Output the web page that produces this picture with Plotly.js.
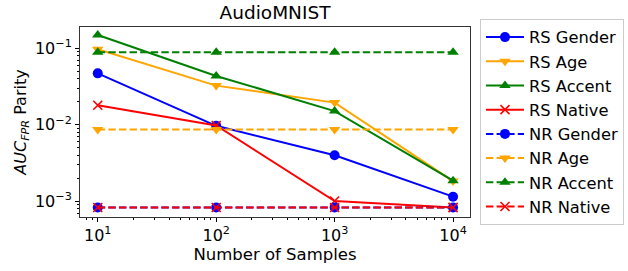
<!DOCTYPE html>
<html>
<head>
<meta charset="utf-8">
<script src="https://cdn.plot.ly/plotly-3.0.1.min.js"></script>
<style>html,body{margin:0;padding:0;background:#fff;}#chart{width:628px;height:271px;}</style>
</head>
<body>
<div id="chart"></div>
<script>
const samples = [10, 100, 1000, 10000];
const rsGender = [0.047, 0.0097, 0.0040, 0.00115];
const rsAge = [0.097, 0.0325, 0.0195, 0.00184];
const rsAccent = [0.149, 0.0435, 0.0151, 0.00186];
const rsNative = [0.018, 0.0098, 0.00101, 0.00083];
const nrGender = [0.00083, 0.00083, 0.00083, 0.00083];
const nrAge = [0.0087, 0.0087, 0.0087, 0.0087];
const nrAccent = [0.0887, 0.0887, 0.0887, 0.0887];
const nrNative = [0.00083, 0.00083, 0.00083, 0.00083];
const xTickVals = [10, 100, 1000, 10000];
const xTickText = ['10<sup>1</sup>', '10<sup>2</sup>', '10<sup>3</sup>', '10<sup>4</sup>'];
const yTickVals = [0.001, 0.01, 0.1];
const yTickText = ['10<sup>\u22123</sup>', '10<sup>\u22122</sup>', '10<sup>\u22121</sup>'];

function minorVals(lo, hi) {
  const v = [];
  for (let e = lo; e <= hi; e++) {
    for (let m = 2; m <= 9; m++) v.push(m * Math.pow(10, e));
  }
  return v;
}

const BLUE = '#0000ff', ORANGE = '#ffa500', GREEN = '#008000', RED = '#ff0000';
function tr(name, y, color, symbol, dashed) {
  const isX = symbol === 'x-thin';
  return {
    x: samples, y: y, name: name, type: 'scatter', mode: 'lines+markers',
    line: {color: color, width: 2, dash: dashed ? '7.4px,3.2px' : 'solid'},
    marker: {symbol: symbol, size: isX ? 9 : 10, color: color,
             line: {color: color, width: isX ? 1.6 : 0}}
  };
}
const data = [
  tr('RS Gender', rsGender, BLUE, 'circle', false),
  tr('RS Age', rsAge, ORANGE, 'triangle-down', false),
  tr('RS Accent', rsAccent, GREEN, 'triangle-up', false),
  tr('RS Native', rsNative, RED, 'x-thin', false),
  tr('NR Gender', nrGender, BLUE, 'circle', true),
  tr('NR Age', nrAge, ORANGE, 'triangle-down', true),
  tr('NR Accent', nrAccent, GREEN, 'triangle-up', true),
  tr('NR Native', nrNative, RED, 'x-thin', true)
];
const font = {family: 'DejaVu Sans', color: '#000'};
const layout = {
  width: 628, height: 271,
  margin: {l: 80, r: 158, t: 27, b: 54, autoexpand: false},
  paper_bgcolor: '#fff', plot_bgcolor: '#fff',
  font: font,
  title: {text: 'AudioMNIST', font: {family: 'DejaVu Sans', size: 18.5, color: '#000'}, x: 0.4379, xanchor: 'center', y: 0.955, yanchor: 'middle'},
  xaxis: {
    type: 'log', range: [0.85, 4.143],
    tickmode: 'array', tickvals: xTickVals, ticktext: xTickText,
    ticks: 'outside', ticklen: 4, tickwidth: 1, tickcolor: '#000',
    tickfont: {family: 'DejaVu Sans', size: 16, color: '#000'},
    showgrid: false, zeroline: false,
    showline: true, linecolor: '#333', linewidth: 1, mirror: true,
    minor: {tickmode: 'array', tickvals: minorVals(0, 4), ticks: 'outside', ticklen: 2, tickcolor: '#000', showgrid: false},
    title: {text: 'Number of Samples', font: {family: 'DejaVu Sans', size: 16.5, color: '#000'}, standoff: 4}
  },
  yaxis: {
    type: 'log', range: [-3.205, -0.722],
    tickmode: 'array', tickvals: yTickVals, ticktext: yTickText,
    ticks: 'outside', ticklen: 4, tickwidth: 1, tickcolor: '#000',
    tickfont: {family: 'DejaVu Sans', size: 16, color: '#000'},
    showgrid: false, zeroline: false,
    showline: true, linecolor: '#333', linewidth: 1, mirror: true,
    minor: {tickmode: 'array', tickvals: minorVals(-4, 0), ticks: 'outside', ticklen: 2, tickcolor: '#000', showgrid: false},
    title: {text: '<i>AUC</i><sub><i>FPR</i></sub> Parity', font: {family: 'DejaVu Sans', size: 16, color: '#000'}, standoff: 4}
  },
  legend: {
    x: 1.0256, y: 1.042, xanchor: 'left', yanchor: 'top',
    bordercolor: '#cccccc', borderwidth: 1, bgcolor: '#fff',
    font: {family: 'DejaVu Sans', size: 16.3, color: '#000'},
    tracegroupgap: 0, maxheight: 260, itemwidth: 38
  },
  showlegend: true
};
Plotly.newPlot('chart', data, layout, {displayModeBar: false, staticPlot: true});
</script>
</body>
</html>
